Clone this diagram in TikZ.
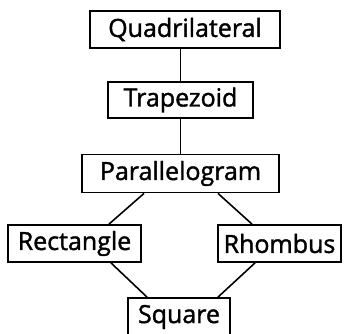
\documentclass[tikz,border=0pt]{standalone}
\usepackage{fontspec}
\newfontfamily\boxfont{Open Sans}[FakeBold=1.5]
\begin{document}
\begin{tikzpicture}[x=1pt,y=-1pt,
  box/.style={draw=black,line width=1.8pt,inner sep=0pt,font=\boxfont\fontsize{25}{28}\selectfont},
  conn/.style={line width=1.6pt}]
\useasboundingbox (0,0) rectangle (349,333);
\node[box,minimum width=190pt,minimum height=37pt] (quad) at (185,29.5) {Quadrilateral};
\node[box,minimum width=145pt,minimum height=36pt] (trap) at (180.5,100) {Trapezoid};
\node[box,minimum width=197pt,minimum height=38pt] (para) at (180.5,173.5) {Parallelogram};
\node[box,minimum width=133pt,minimum height=37pt] (rect) at (74.5,243.5) {Rectangle};
\node[box,minimum width=123pt,minimum height=37pt] (rhom) at (279.5,243.5) {Rhombus};
\node[box,minimum width=102pt,minimum height=38pt] (sq) at (179,317) {Square};
\draw[conn] (trap.north |- quad.south) -- (trap.north);
\draw[conn] (trap.south) -- (trap.south |- para.north);
\draw[conn] ([xshift=-36.5pt]para.south) -- ([xshift=34.5pt]rect.north);
\draw[conn] ([xshift=37.5pt]para.south) -- ([xshift=-27.5pt]rhom.north);
\draw[conn] ([xshift=36.5pt]rect.south) -- ([xshift=-32pt]sq.north);
\draw[conn] ([xshift=-24.5pt]rhom.south) -- ([xshift=39pt]sq.north);
\end{tikzpicture}
\end{document}
